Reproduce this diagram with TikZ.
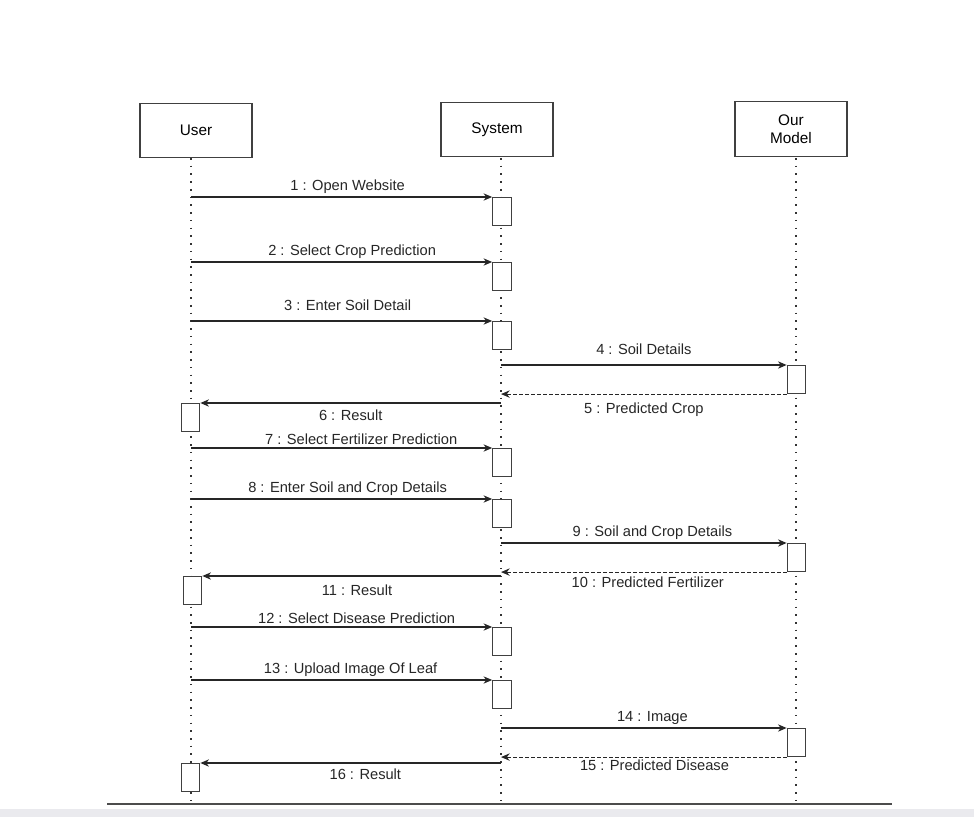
\documentclass[tikz,border=0pt]{standalone}
\usepackage{fontspec}
\setmainfont{Liberation Sans}
\usetikzlibrary{arrows.meta, positioning}

\begin{document}
\begin{tikzpicture}[
  x=0.75pt, y=-0.75pt,
  actor/.style={rectangle, draw=black!75, line width=0.9pt, minimum width=84pt, minimum height=41pt, align=center, font=\fontsize{11.5}{13.5}\selectfont},
  act/.style={rectangle, draw=black!75, fill=white, line width=0.8pt, minimum width=14pt, minimum height=21pt, inner sep=0pt, anchor=north},
  life/.style={line width=1.4pt, dash pattern=on 1.2pt off 4.6pt, black!80},
  msg/.style={-{Stealth[length=6.5pt, width=5.5pt]}, line width=0.85pt, black!85},
  reply/.style={msg, dash pattern=on 2.5pt off 2pt},
  lbl/.style={font=\fontsize{11}{13}\selectfont, inner sep=2pt}
]
\useasboundingbox (0,0) rectangle (974,817);
\fill[blue!10!gray!15] (0,809) rectangle (974,817);

% actors
\node[actor] (user) at (196,130.5) {User};
\node[actor] (system) at (497,129.5) {System};
\node[actor] (model) at (791,129) {Our\\Model};

% lifelines
\coordinate (ul) at (191,158);
\coordinate (sl) at (501,158);
\coordinate (ml) at (796,158);
\coordinate (ue) at (191,804);
\coordinate (se) at (501,804);
\coordinate (me) at (796,804);
\draw[life] (ul) -- (ue);
\draw[life] (sl) -- (se);
\draw[life] (ml) -- (me);

% activations
\node[act] (s1) at (502,197) {};
\node[act] (s2) at (502,262) {};
\node[act] (s3) at (502,321) {};
\node[act] (m4) at (796.5,365) {};
\node[act] (u6) at (190.5,403) {};
\node[act] (s7) at (502,448) {};
\node[act] (s8) at (502,499) {};
\node[act] (m9) at (796.5,543) {};
\node[act] (u11) at (192.5,576) {};
\node[act] (s12) at (502,627) {};
\node[act] (s13) at (502,680) {};
\node[act] (m14) at (796.5,728) {};
\node[act] (u16) at (190.5,763) {};

% messages
\draw[msg] (s1.north west -| ul) -- (s1.north west) node[lbl, above, pos=0.52] {1 : Open Website};
\draw[msg] (s2.north west -| ul) -- (s2.north west) node[lbl, above, pos=0.535] {2 : Select Crop Prediction};
\draw[msg] (s3.north west -| ul) -- (s3.north west) node[lbl, above, pos=0.52, yshift=5pt] {3 : Enter Soil Detail};
\draw[msg] (m4.north west -| sl) -- (m4.north west) node[lbl, above, midway, yshift=5pt] {4 : Soil Details};
\draw[reply] (m4.south west) -- (m4.south west -| sl) node[lbl, below, midway, yshift=-4.5pt] {5 : Predicted Crop};
\draw[msg] (u6.north east -| sl) -- (u6.north east) node[lbl, below, midway, yshift=-3pt] {6 : Result};
\draw[msg] (s7.north west -| ul) -- (s7.north west) node[lbl, above, pos=0.565] {7 : Select Fertilizer Prediction};
\draw[msg] (s8.north west -| ul) -- (s8.north west) node[lbl, above, pos=0.52] {8 : Enter Soil and Crop Details};
\draw[msg] (m9.north west -| sl) -- (m9.north west) node[lbl, above, pos=0.53] {9 : Soil and Crop Details};
\draw[reply] (m9.south west) -- (m9.south west -| sl) node[lbl, below, midway, xshift=3pt, yshift=-1.5pt] {10 : Predicted Fertilizer};
\draw[msg] (u11.north east -| sl) -- (u11.north east) node[lbl, below, midway, xshift=4pt, yshift=-4.5pt] {11 : Result};
\draw[msg] (s12.north west -| ul) -- (s12.north west) node[lbl, above, pos=0.55] {12 : Select Disease Prediction};
\draw[msg] (s13.north west -| ul) -- (s13.north west) node[lbl, above, pos=0.53] {13 : Upload Image Of Leaf};
\draw[msg] (m14.north west -| sl) -- (m14.north west) node[lbl, above, pos=0.53] {14 : Image};
\draw[reply] (m14.south west) -- (m14.south west -| sl) node[lbl, below, midway, xshift=8pt] {15 : Predicted Disease};
\draw[msg] (u16.north east -| sl) -- (u16.north east) node[lbl, below, midway, xshift=11pt, yshift=-2pt] {16 : Result};

% frame line
\draw[black!70, line width=1pt] (ue -| 107,0) -- (me -| 892,0);

\end{tikzpicture}
\end{document}
